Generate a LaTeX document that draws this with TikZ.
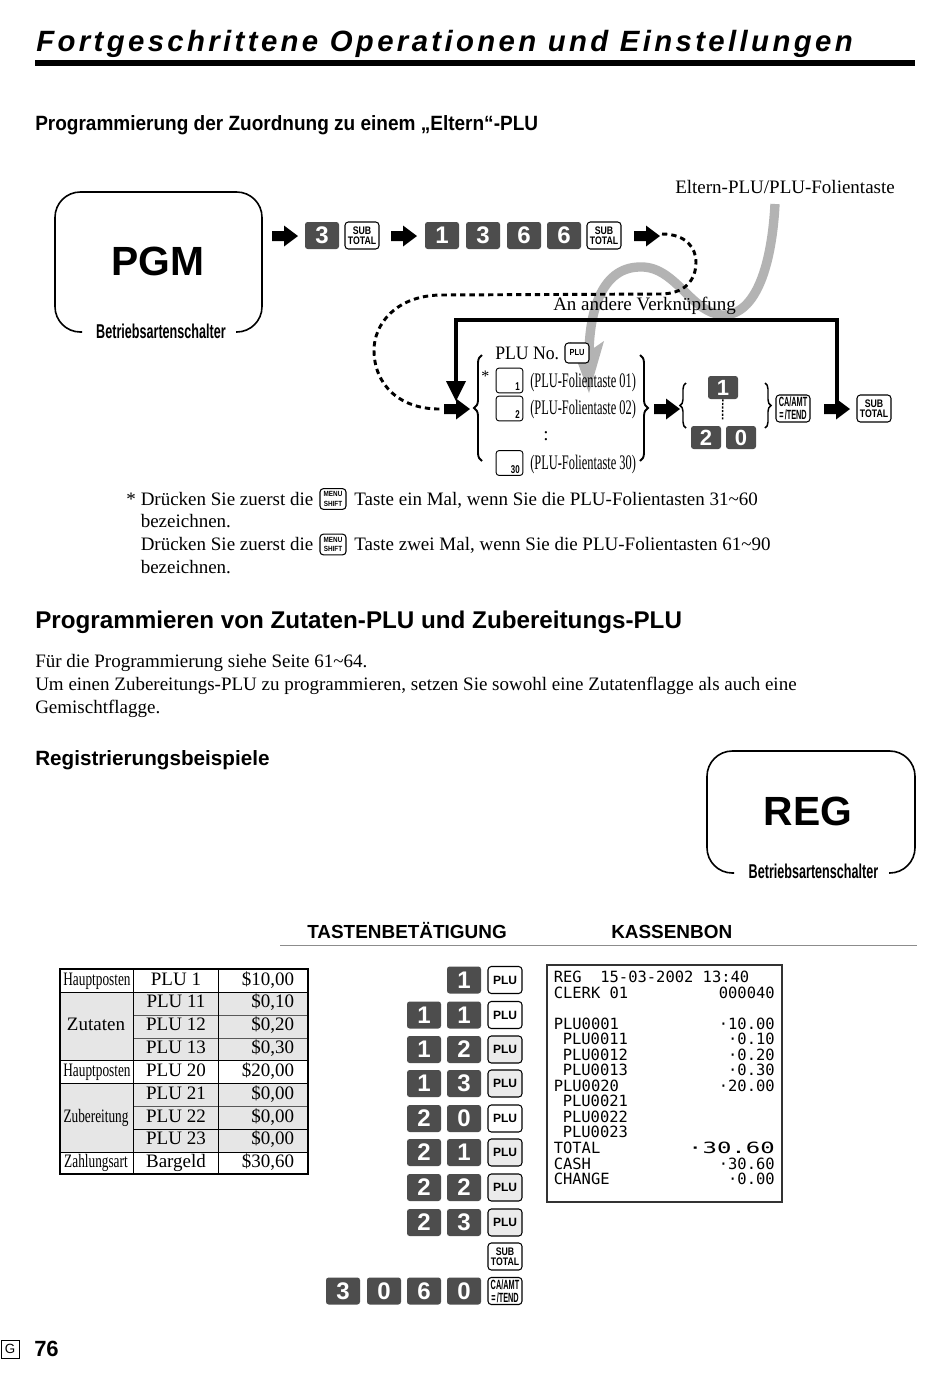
\documentclass[tikz,border=0pt]{standalone}
\usepackage{fontspec}
\setmainfont{Liberation Serif}
\setsansfont{Liberation Sans}
\setmonofont{DejaVu Sans Mono}
\newfontfamily\titlefont[LetterSpace=11.5]{Liberation Sans}
\usetikzlibrary{decorations.pathreplacing}
\definecolor{keydark}{HTML}{4D4D4D}
\definecolor{grayline}{HTML}{B3B3B3}
\definecolor{tabshade}{HTML}{E6E6E6}
\definecolor{keyshade}{HTML}{EBEBEB}
\tikzset{
  txt/.style={anchor=base west,inner sep=0,font=\fontsize{14.25}{16}\selectfont},
  txtc/.style={anchor=base,inner sep=0,font=\fontsize{14.25}{16}\selectfont},
  txtr/.style={anchor=base east,inner sep=0,font=\fontsize{14.25}{16}\selectfont},
  head/.style={anchor=base west,inner sep=0,font=\sffamily\bfseries\fontsize{15.5}{17}\selectfont},
  headb/.style={anchor=base west,inner sep=0,font=\sffamily\bfseries\fontsize{18.15}{20}\selectfont},
  dkeyb/.style={fill=keydark,rounded corners=2pt,text=white,inner sep=0,minimum width=25.5pt,minimum height=20.25pt,font=\sffamily\bfseries\fontsize{18}{18}\selectfont},
  smalldk/.style={minimum width=22.5pt,minimum height=17.25pt,font=\sffamily\bfseries\fontsize{16.5}{17}\selectfont},
  lkeyb/.style={draw=black,line width=.8pt,fill=white,rounded corners=2.5pt,inner sep=0,minimum width=25.5pt,minimum height=20.25pt,align=center,font=\sffamily\bfseries\fontsize{8.2}{8.2}\selectfont},
  catkey/.style={font=\sffamily\bfseries\fontsize{10}{9.8}\selectfont},
  menukey/.style={minimum width=19.5pt,minimum height=15.5pt,font=\sffamily\bfseries\fontsize{5.6}{7}\selectfont},
  blank/.style={draw=black,line width=.7pt,fill=white,rounded corners=2pt,inner sep=0,minimum width=20pt,minimum height=18.5pt},
  blanknum/.style={inner sep=0,anchor=base east,font=\sffamily\bfseries\fontsize{8.5}{9}\selectfont},
  lab/.style={anchor=base west,inner sep=0,font=\fontsize{15.5}{16}\selectfont},
  rcpt/.style={anchor=base west,inner sep=0,font=\ttfamily\fontsize{11.6}{12}\selectfont},
  rcptr/.style={anchor=base east,inner sep=0,font=\ttfamily\fontsize{11.6}{12}\selectfont},
  modebox/.style={line width=1.2pt,rounded corners=19pt},
  modelabel/.style={inner sep=0,font=\sffamily\bfseries\fontsize{15}{15}\selectfont},
  modename/.style={inner sep=0,font=\sffamily\bfseries\fontsize{30.6}{31}\selectfont},
  thinrow/.style={line width=.5pt,draw=black!65},
  brc/.style={line width=1.4pt,decorate,decoration={brace,amplitude=6pt}},
  brcs/.style={line width=1.1pt,decorate,decoration={brace,amplitude=4.5pt}},
}
\newcommand\dk[5][]{\node[dkeyb,#1] (#2) at (#3,#4) {#5};}
\newcommand\lk[5][]{\node[lkeyb,#1] (#2) at (#3,#4) {#5};}
\newcommand\subtot{\scalebox{.8}[1]{SUB}\\[-.5pt]\scalebox{.8}[1]{TOTAL}}
\newcommand\catend{\scalebox{.55}[1]{CA/AMT}\\\scalebox{.55}[1]{=\,/TEND}}
\newcommand\pluk{\fontsize{9}{9}\selectfont PLU}
\newcommand\menuk{\scalebox{.85}[1]{MENU}\\\scalebox{.85}[1]{SHIFT}}
\newcommand\fa[3]{\coordinate (#1) at (#2,#3);
  \fill (#1) ++(-13,-5) -- ++(12,0) -- ++(0,-5.5) -- ++(14,10.5) -- ++(-14,10.5) -- ++(0,-5.5) -- ++(-12,0) -- cycle;}
\newcommand\cond[1]{\scalebox{.7}[1]{#1}}
\begin{document}
\begin{tikzpicture}[x=.75pt,y=-.75pt]
\useasboundingbox (0,0) rectangle (950,1379);
\fill[white] (0,0) rectangle (950,1379);
% title
\node[anchor=base west,inner sep=0,font=\titlefont\bfseries\itshape\fontsize{22}{26}\selectfont] (title) at (36,51) {Fortgeschrittene Operationen und Einstellungen};
\fill (35,59.5) rectangle (915,66);
\node[head] (h1) at (35,130.5) {\scalebox{.92}[1]{Programmierung der Zuordnung zu einem „Eltern“-PLU}};
% PGM box
\coordinate (pgmA) at (82,332); \coordinate (pgmB) at (236,332);
\draw[modebox] (pgmA) -- (55,332) -- (55,192) -- (262,192) -- (262,332) -- (pgmB);
\node[modename] (pgm) at (158,261) {PGM};
\node[modelabel] (pgml) at (161,331) {\scalebox{.63}[1]{Betriebsartenschalter}};
% gray curve
\coordinate (grS) at (775,204); \coordinate (grE) at (589,356);
\draw[grayline,line width=7pt] (grS) .. controls (772,262) and (757,316) .. (722,315)
  .. controls (690,312) and (675,265) .. (639,267)
  .. controls (600,268) and (589,315) .. (grE);
\fill[grayline] (570,342) -- (588,352) -- (604,341) -- (589,393) -- cycle;
% top row
\fa{a1}{285}{236}
\dk{k3}{322}{235.5}{3}
\lk{ks1}{362}{235.5}{\subtot}
\fa{a2}{404}{236}
\dk{k1}{442}{235.5}{1}
\dk{k2}{483}{235.5}{3}
\dk{k4}{524}{235.5}{6}
\dk{k5}{564}{235.5}{6}
\lk{ks2}{604}{235.5}{\subtot}
\fa{a3}{647}{236}
\node[txt] (elt) at (675,193) {Eltern-PLU/PLU-Folientaste};
% dashed
\coordinate (daS) at (662,234);
\fa{a4}{457}{409}
\coordinate (daE) at (442,409);
\draw[line width=2.2pt,dash pattern=on 4pt off 3pt] (daS) .. controls (686,234) and (696,248) .. (696,262)
  .. controls (696,280) and (685,294) .. (660,294) -- (440,295)
  .. controls (395,296) and (374,325) .. (374,350)
  .. controls (374,385) and (400,410) .. (daE);
\node[txt] (other) at (553,310) {An andere Verknüpfung};
% black frame
\fa{a7}{837}{409}
\coordinate (frA) at (456,385);
\draw[line width=2.6pt] (frA) -- (456,320) -- (837,320) -- (a7);
\fill (446,381) -- (466,381) -- (456,401) -- cycle;
% PLU list
\node[txt] (pluno) at (495,359) {\scalebox{.93}[1]{PLU No.}};
\lk[minimum width=18pt,minimum height=15pt]{kp}{577}{353}{\fontsize{6.6}{7}\selectfont\scalebox{.85}[1]{PLU}}
\node[txt,font=\fontsize{12}{14}\selectfont] (star) at (481,381) {*};
\draw[brc] (482,461) -- (482,355);
\draw[brc] (640,355) -- (640,461);
\node[blank] (b1) at (509.5,380.5) {};
\node[blank] (b2) at (509.5,408.5) {};
\node[blank] (b3) at (509.5,463) {};
\node[blanknum] (n1) at (520,390) {\cond{1}};
\node[blanknum] (n2) at (520,418) {\cond{2}};
\node[blanknum] (n3) at (520,473) {\cond{30}};
\node[lab] (l1) at (530,387) {\scalebox{.6}[1]{(PLU-Folientaste 01)}};
\node[lab] (l2) at (530,414) {\scalebox{.6}[1]{(PLU-Folientaste 02)}};
\node[lab] (l3) at (530,469) {\scalebox{.6}[1]{(PLU-Folientaste 30)}};
\node[txtc] (cl) at (546,440) {:};
\fa{a5}{667}{409}
\draw[brcs] (686,428) -- (686,383);
\draw[brcs] (765,383) -- (765,428);
\dk[smalldk]{r1}{723}{387.5}{1}
\dk[smalldk]{r2}{706}{437.5}{2}
\dk[smalldk]{r3}{741}{437.5}{0}
\draw[line width=1.1pt,dash pattern=on 1.6pt off 1.1pt] (r1) -- (722.5,420);
\lk[catkey]{kc}{793}{408.5}{\catend}
\lk{ks3}{874}{408.5}{\subtot}
% notes
\node[txt] (s) at (126,505) {*};
\node[txt] (n1a) at (140.5,505) {Drücken Sie zuerst die};
\lk[menukey]{m1}{333}{499}{\menuk}
\node[txt] (n1b) at (354,505) {Taste ein Mal, wenn Sie die PLU-Folientasten 31\textasciitilde 60};
\node[txt] (n1c) at (140.5,527) {bezeichnen.};
\node[txt] (n2a) at (140.5,550) {Drücken Sie zuerst die};
\lk[menukey]{m2}{333}{544.5}{\menuk}
\node[txt] (n2b) at (354,550) {Taste zwei Mal, wenn Sie die PLU-Folientasten 61\textasciitilde 90};
\node[txt] (n2c) at (140.5,573) {bezeichnen.};
\node[headb] (h2) at (35,628) {Programmieren von Zutaten-PLU und Zubereitungs-PLU};
\node[txt] (p1) at (35,667) {Für die Programmierung siehe Seite 61\textasciitilde 64.};
\node[txt] (p2) at (35,690) {Um einen Zubereitungs-PLU zu programmieren, setzen Sie sowohl eine Zutatenflagge als auch eine};
\node[txt] (p3) at (35,713) {Gemischtflagge.};
\node[head] (h3) at (35,765) {Registrierungsbeispiele};
% REG box
\coordinate (regA) at (734,873); \coordinate (regB) at (889,873);
\draw[modebox] (regA) -- (707,873) -- (707,751) -- (915,751) -- (915,873) -- (regB);
\node[modename] (reg) at (808,811) {REG};
\node[modelabel] (regl) at (813.5,871) {\scalebox{.63}[1]{Betriebsartenschalter}};
% headers
\node[head,font=\sffamily\bfseries\fontsize{14.2}{17}\selectfont] (tb) at (307,938.5) {TASTENBETÄTIGUNG};
\node[head,font=\sffamily\bfseries\fontsize{14.2}{17}\selectfont] (kb) at (611,938.5) {KASSENBON};
\draw[black!45,line width=.6pt] (280,945) -- (917,945);
% table
\fill[tabshade] (60,992) rectangle (308,1060);
\fill[tabshade] (60,1083) rectangle (308,1152);
\draw[thinrow] (133,1015) -- (308,1015) (133,1038) -- (308,1038);
\draw[thinrow] (133,1106) -- (308,1106);
\draw[line width=.7pt] (133,1129) -- (308,1129);
\draw[line width=.7pt] (60,992) -- (308,992) (60,1060) -- (308,1060) (60,1083) -- (308,1083) (60,1152) -- (308,1152);
\draw[line width=.7pt] (133,969) -- (133,1174) (218.5,969) -- (218.5,1174);
\draw[line width=1.5pt] (60,969) rectangle (308,1174);
\node[txtc] (c1) at (97,985) {\cond{Hauptposten}};
\node[txtc] (c2) at (96,1030) {Zutaten};
\node[txtc] (c3) at (97,1076) {\cond{Hauptposten}};
\node[txtc] (c4) at (96,1122) {\cond{Zubereitung}};
\node[txtc] (c5) at (96,1167) {\cond{Zahlungsart}};
\node[txtc] (d1) at (176,985) {PLU 1};
\node[txtc] (d2) at (176,1007) {PLU 11};
\node[txtc] (d3) at (176,1030) {PLU 12};
\node[txtc] (d4) at (176,1053) {PLU 13};
\node[txtc] (d5) at (176,1076) {PLU 20};
\node[txtc] (d6) at (176,1099) {PLU 21};
\node[txtc] (d7) at (176,1122) {PLU 22};
\node[txtc] (d8) at (176,1144) {PLU 23};
\node[txtc] (d9) at (176,1167) {Bargeld};
\node[txtr] (e1) at (294.5,985) {\$10,00};
\node[txtr] (e2) at (294.5,1007) {\$0,10};
\node[txtr] (e3) at (294.5,1030) {\$0,20};
\node[txtr] (e4) at (294.5,1053) {\$0,30};
\node[txtr] (e5) at (294.5,1076) {\$20,00};
\node[txtr] (e6) at (294.5,1099) {\$0,00};
\node[txtr] (e7) at (294.5,1122) {\$0,00};
\node[txtr] (e8) at (294.5,1144) {\$0,00};
\node[txtr] (e9) at (294.5,1167) {\$30,60};
% key column
\dk{g1}{464}{980}{1}
\lk{gp1}{505}{980}{\pluk}
\dk{g2a}{424}{1015}{1}\dk{g2}{464}{1015}{1}
\lk{gp2}{505}{1015}{\pluk}
\dk{g3a}{424}{1049.5}{1}\dk{g3}{464}{1049.5}{2}
\lk[fill=keyshade]{gp3}{505}{1049.5}{\pluk}
\dk{g4a}{424}{1083.5}{1}\dk{g4}{464}{1083.5}{3}
\lk[fill=keyshade]{gp4}{505}{1083.5}{\pluk}
\dk{g5a}{424}{1118.5}{2}\dk{g5}{464}{1118.5}{0}
\lk{gp5}{505}{1118.5}{\pluk}
\dk{g6a}{424}{1152.5}{2}\dk{g6}{464}{1152.5}{1}
\lk[fill=keyshade]{gp6}{505}{1152.5}{\pluk}
\dk{g7a}{424}{1187.5}{2}\dk{g7}{464}{1187.5}{2}
\lk[fill=keyshade]{gp7}{505}{1187.5}{\pluk}
\dk{g8a}{424}{1222.5}{2}\dk{g8}{464}{1222.5}{3}
\lk[fill=keyshade]{gp8}{505}{1222.5}{\pluk}
\lk{gs}{505}{1256.5}{\subtot}
\dk{h3k}{343}{1291}{3}\dk{h0k}{384}{1291}{0}\dk{h6k}{424}{1291}{6}\dk{h00}{464}{1291}{0}
\lk[catkey]{gc}{505}{1291}{\catend}
% receipt
\draw[line width=.9pt,draw=black!80] (547,965) rectangle (782,1202);
\node[rcpt] (r01) at (553.5,982) {REG\ \ 15-03-2002 13:40};
\node[rcpt] (r02) at (553.5,998) {CLERK 01};
\node[rcptr] (r02b) at (775,998) {000040};
\node[rcpt] (r03) at (553.5,1029) {PLU0001};
\node[rcptr] (r03b) at (775,1029) {·10.00};
\node[rcpt] (r04) at (562.5,1044.5) {PLU0011};
\node[rcptr] (r04b) at (775,1044.5) {·0.10};
\node[rcpt] (r05) at (562.5,1060) {PLU0012};
\node[rcptr] (r05b) at (775,1060) {·0.20};
\node[rcpt] (r06) at (562.5,1075.5) {PLU0013};
\node[rcptr] (r06b) at (775,1075.5) {·0.30};
\node[rcpt] (r07) at (553.5,1091) {PLU0020};
\node[rcptr] (r07b) at (775,1091) {·20.00};
\node[rcpt] (r08) at (562.5,1106.5) {PLU0021};
\node[rcpt] (r09) at (562.5,1122) {PLU0022};
\node[rcpt] (r10) at (562.5,1137.5) {PLU0023};
\node[rcpt] (r11) at (553.5,1153) {TOTAL};
\node[rcptr] (r11b) at (775,1153) {\scalebox{1.55}[1]{·30.60}};
\node[rcpt] (r12) at (553.5,1169) {CASH};
\node[rcptr] (r12b) at (775,1169) {·30.60};
\node[rcpt] (r13) at (553.5,1184.5) {CHANGE};
\node[rcptr] (r13b) at (775,1184.5) {·0.00};
% footer
\node[draw=black,line width=.6pt,inner sep=0,minimum width=13.5pt,minimum height=13.5pt,font=\sffamily\fontsize{10}{10}\selectfont] (g) at (10,1349) {G};
\node[anchor=base west,inner sep=0,font=\sffamily\bfseries\fontsize{16.5}{18}\selectfont] (pg) at (34,1356) {76};
\end{tikzpicture}
\end{document}
